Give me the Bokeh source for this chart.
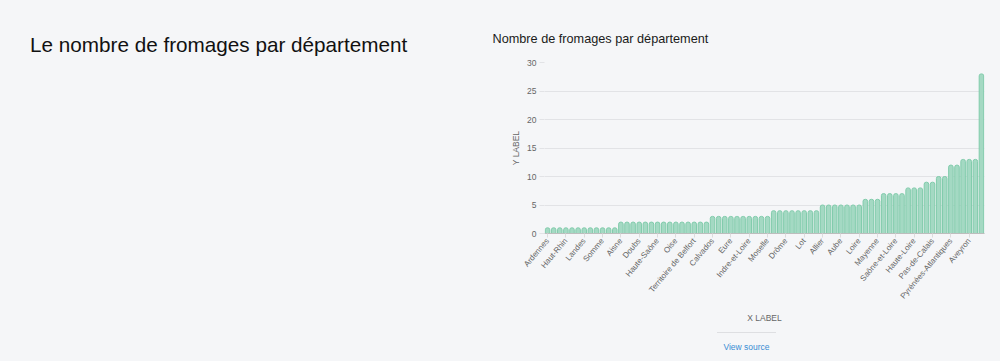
import math
from bokeh.plotting import figure
from bokeh.layouts import row, column
from bokeh.models import Range1d, FixedTicker, Div
from bokeh.embed import file_html
from bokeh.resources import INLINE

# ---- data ----
departements = [
    "Ardennes", "Bas-Rhin", "Gironde", "Haut-Rhin", "Hauts-de-Seine", "Hérault",
    "Landes", "Loir-et-Cher", "Marne", "Somme", "Var", "Vosges",
    "Aisne", "Ardèche", "Aude", "Doubs", "Eure-et-Loir", "Gers", "Haute-Saône",
    "Jura", "Meuse", "Oise", "Orne", "Sarthe", "Territoire de Belfort", "Vienne", "Yonne",
    "Calvados", "Charente", "Côte-d'Or", "Eure", "Finistère", "Ille-et-Vilaine",
    "Indre-et-Loire", "Loiret", "Manche", "Moselle",
    "Ain", "Corrèze", "Drôme", "Haute-Marne", "Indre", "Lot", "Nord", "Vendée",
    "Allier", "Alpes-de-Haute-Provence", "Ariège", "Aube", "Deux-Sèvres", "Isère", "Loire",
    "Cher", "Lozère", "Mayenne",
    "Creuse", "Hautes-Pyrénées", "Saône-et-Loire", "Tarn",
    "Cantal", "Haute-Loire", "Puy-de-Dôme",
    "Nièvre", "Pas-de-Calais",
    "Vaucluse", "Alpes-Maritimes",
    "Pyrénées-Atlantiques", "Haute-Savoie",
    "Corse-du-Sud", "Aveyron", "Haute-Corse",
    "Savoie",
]
nombres = [
    1, 1, 1, 1, 1, 1, 1, 1, 1, 1, 1, 1,
    2, 2, 2, 2, 2, 2, 2, 2, 2, 2, 2, 2, 2, 2, 2,
    3, 3, 3, 3, 3, 3, 3, 3, 3, 3,
    4, 4, 4, 4, 4, 4, 4, 4,
    5, 5, 5, 5, 5, 5, 5,
    6, 6, 6,
    7, 7, 7, 7,
    8, 8, 8,
    9, 9,
    10, 10,
    12, 12,
    13, 13, 13,
    28,
]
y_ticks = [0, 5, 10, 15, 20, 25, 30]
page_title = "Le nombre de fromages par département"
chart_title = "Nombre de fromages par département"
x_label = "X LABEL"
y_label = "Y LABEL"
link_text = "View source"

BG = "#f5f6f8"
FONT = "Liberation Sans"
LEFT_W = 480            # width of the page-title column
FIG_W, FIG_H = 520, 325
FOOT_H = 36
FL, FR, FT, FB = 544 - LEFT_W, 984 - LEFT_W, 62, 233   # frame edges in figure coords
N = len(departements)

positions = list(range(N))
shown = positions[::3]

p = figure(width=FIG_W, height=FIG_H, output_backend="svg", toolbar_location=None,
           x_range=Range1d(-0.5, N - 0.5), y_range=Range1d(0, 30),
           min_border_left=FL, min_border_right=FIG_W - FR,
           min_border_top=FT, min_border_bottom=FIG_H - FB)
p.background_fill_color = BG
p.border_fill_color = BG
p.outline_line_color = None

p.title.text = chart_title
p.title.align = "left"
p.title.offset = -(FL - 12)
p.title.standoff = 33
p.title.text_font = FONT
p.title.text_font_size = "12.7px"
p.title.text_font_style = "normal"
p.title.text_color = "#1a1a1a"

p.vbar(x=positions, top=nombres, width=0.74, bottom=0,
       fill_color="#a4d9c3", line_color="#80cbab", line_width=1,
       border_radius=(2, 2, 0, 0))

# y axis
p.yaxis.ticker = FixedTicker(ticks=y_ticks)
p.yaxis.axis_line_color = None
p.yaxis.major_tick_line_color = "#e2e3e6"
p.yaxis.major_tick_out = 5
p.yaxis.major_tick_in = 0
p.yaxis.minor_tick_line_color = None
p.yaxis.major_label_standoff = 3
p.yaxis.major_label_text_font = FONT
p.yaxis.major_label_text_font_size = "8.5px"
p.yaxis.major_label_text_color = "#666666"
p.yaxis.axis_label = y_label
p.yaxis.axis_label_standoff = 3
p.yaxis.axis_label_text_font = FONT
p.yaxis.axis_label_text_font_size = "8.5px"
p.yaxis.axis_label_text_font_style = "normal"
p.yaxis.axis_label_text_color = "#666666"

# x axis
p.xaxis.ticker = FixedTicker(ticks=shown)
p.xaxis.major_label_overrides = {i: departements[i] for i in shown}
p.xaxis.major_label_orientation = math.radians(50)
p.xaxis.axis_line_color = "#bdbdbd"
p.xaxis.major_tick_line_color = "#dcdcdc"
p.xaxis.major_tick_out = 4
p.xaxis.major_tick_in = 0
p.xaxis.minor_tick_line_color = None
p.xaxis.major_label_standoff = 2
p.xaxis.major_label_text_font = FONT
p.xaxis.major_label_text_font_size = "8px"
p.xaxis.major_label_text_color = "#666666"
p.xaxis.axis_label = x_label
p.xaxis.axis_label_standoff = 6
p.xaxis.axis_label_text_font = FONT
p.xaxis.axis_label_text_font_size = "8.5px"
p.xaxis.axis_label_text_font_style = "normal"
p.xaxis.axis_label_text_color = "#666666"

p.xgrid.grid_line_color = None
p.ygrid.grid_line_color = "#e2e3e6"
p.ygrid.ticker = FixedTicker(ticks=y_ticks)

title_div = Div(
    text=('<div style="font-family:\'%s\';font-size:20.7px;line-height:24px;color:#111111;'
          'padding-left:30px;padding-top:33px;white-space:nowrap;">%s</div>') % (FONT, page_title),
    width=LEFT_W, height=FIG_H + FOOT_H, margin=0, styles={"background-color": BG})

foot_div = Div(
    text=('<div style="margin-left:237px;margin-top:7px;width:59px;border-top:1px solid #dedfe2;'
          'padding-top:9px;text-align:center;font-family:\'%s\';font-size:8.5px;line-height:10px;'
          'color:#3a8dd3;white-space:nowrap;">%s</div>') % (FONT, link_text),
    width=FIG_W, height=FOOT_H, margin=0, styles={"background-color": BG})

layout = row(title_div, column(p, foot_div, spacing=0), spacing=0)

html = file_html(layout, INLINE)
html = html.replace("</head>", "<style>html, body { background: %s !important; }</style></head>" % BG, 1)
open("out.html", "w").write(html)
